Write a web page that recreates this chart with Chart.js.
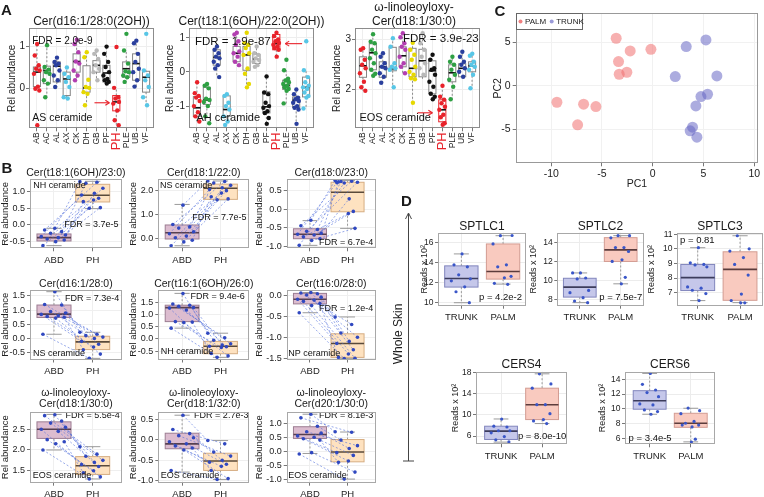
<!DOCTYPE html>
<html>
<head>
<meta charset="utf-8">
<title>Ceramide figure</title>
<script src="https://cdn.jsdelivr.net/npm/chart.js@4.4.1/dist/chart.umd.min.js"></script>
<style>
html,body{margin:0;padding:0;background:#fff;}
#fig{position:relative;width:764px;height:497px;overflow:hidden;background:#fff;font-family:"Liberation Sans",Arial,Helvetica,sans-serif;color:#1a1a1a;}
#fig canvas{position:absolute;}
.t{position:absolute;white-space:nowrap;line-height:1;transform:translate(-50%,-50%);}
#fig svg{position:absolute;left:0;top:0;}
</style>
</head>
<body>
<div id="fig"></div>
<script>
// ================= DATA =================
// ---- Panel A (12 skin sites) ----
const aCategories = ['AB','AC','AL','AX','CK','DH','GB','PF','PH','PLE','UB','VF'];
const a1Title = 'Cer(d16:1/28:0(2OH))';
const a1YTicks = [0, 1];
const a1Values = [
  [1.05, 0.78, 0.55, 0.47, 0.43, 0.35, 0.05, 0.0, -0.04, -0.86],
  [1.02, 0.51, 0.45, 0.39, 0.35, 0.2, 0.12, -0.2],
  [0.73, 0.63, 0.59, 0.55, 0.43, 0.31, 0.2, 0.04],
  [0.5, 0.35, 0.27, 0.16, 0.04, -0.2, -0.23],
  [1.15, 1.05, 0.86, 0.64, 0.59, 0.43, 0.31, 0.2],
  [0.86, 0.74, 0.21, 0.04, 0.02, -0.08, -0.12, -0.39],
  [0.9, 0.82, 0.7, 0.55, 0.47, 0.39, 0.2],
  [0.99, 0.82, 0.63, 0.51, 0.39, 0.31, 0.23, 0.2, 0.16, 0.12],
  [0.98, 0.02, -0.2, -0.23, -0.31, -0.35, -0.51, -0.74, -0.86],
  [1.29, 0.9, 0.59, 0.41, 0.39, 0.31, 0.27, 0.16],
  [1.13, 1.07, 0.82, 0.63, 0.47, 0.39, 0.2, 0.05],
  [1.29, 0.43, 0.31, 0.2, 0.04, -0.2, -0.39]
];
const a1Boxes = [
  [-0.04, 0.05, 0.39, 0.51, 1.05], [-0.2, 0.12, 0.43, 0.53, 1.02], [0.04, 0.16, 0.53, 0.63, 0.73],
  [-0.23, -0.16, 0.23, 0.39, 0.5], [0.2, 0.39, 0.64, 0.82, 1.15], [-0.39, -0.08, 0.02, 0.54, 0.86],
  [0.2, 0.39, 0.55, 0.66, 0.9], [0.12, 0.16, 0.37, 0.55, 0.99], [-0.86, -0.52, -0.31, -0.16, 0.02],
  [0.16, 0.27, 0.47, 0.63, 0.9], [0.05, 0.2, 0.59, 0.82, 1.13], [-0.39, -0.08, 0.27, 0.41, 0.43]
];
const a2Title = 'Cer(t18:1(6OH)/22:0(2OH))';
const a2YTicks = [-1, 0, 1];
const a2Values = [
  [-0.3, -0.62, -0.7, -0.75, -0.85, -1.0, -1.18, -1.3, -1.45],
  [-0.35, -0.4, -0.48, -0.78, -0.82, -0.88, -1.0, -1.3, -1.5],
  [0.75, 0.65, 0.55, 0.45, 0.4, 0.3, 0.2, 0.1, -0.15],
  [-0.65, -0.7, -0.9, -1.0, -1.1, -1.3, -1.45, -1.55],
  [1.15, 1.1, 0.9, 0.8, 0.6, 0.55, 0.45, 0.3, 0.2],
  [1.15, 0.85, 0.8, 0.7, 0.55, 0.5, 0.1, -0.05, -0.35, -0.45],
  [0.75, 0.55, 0.5, 0.4, 0.35, 0.3, 0.2, 0.15],
  [-0.13, -0.6, -0.65, -0.9, -1.0, -1.05, -1.15, -1.2, -1.35, -1.52],
  [1.15, 1.05, 0.95, 0.9, 0.85, 0.8, 0.75, 0.7, 0.65, 0.45],
  [0.36, 0.05, -0.2, -0.25, -0.3, -0.35, -0.4, -0.45, -0.5, -0.55, -0.92],
  [-0.51, -0.65, -0.75, -0.8, -0.85, -0.9, -1.0, -1.05, -1.1, -1.52],
  [0.9, 0.05, -0.15, -0.3, -0.4, -0.45, -0.5, -0.6, -0.7, -0.75, -1.07]
];
const a2Boxes = [
  [-1.45, -1.3, -1.05, -0.72, -0.3], [-1.3, -0.95, -0.82, -0.45, -0.35], [-0.15, 0.2, 0.43, 0.65, 0.75],
  [-1.55, -1.3, -1.1, -0.7, -0.65], [0.2, 0.3, 0.55, 0.75, 1.15], [-0.45, 0.05, 0.5, 0.75, 1.15],
  [0.15, 0.25, 0.38, 0.52, 0.75], [-1.52, -1.2, -1.02, -0.58, -0.13], [0.44, 0.65, 0.83, 1.1, 1.15],
  [-0.92, -0.51, -0.39, -0.24, 0.05], [-1.52, -1.04, -0.83, -0.73, -0.51], [-1.07, -0.73, -0.45, -0.15, 0.05]
];
const a3Title = ['ω-linoleoyloxy-', 'Cer(d18:1/30:0)'];
const a3YTicks = [2, 3];
const a3Values = [
  [2.82, 2.79, 2.59, 2.49, 2.42, 2.32, 2.15, 2.04, 1.97],
  [3.1, 2.95, 2.92, 2.79, 2.72, 2.62, 2.52, 2.39, 2.31, 2.27],
  [2.72, 2.65, 2.52, 2.45, 2.42, 2.32, 2.25, 2.13],
  [3.02, 2.85, 2.52, 2.45, 2.42, 2.39, 2.04],
  [3.12, 3.04, 2.92, 2.85, 2.79, 2.65, 2.52, 2.45, 2.32],
  [2.93, 2.79, 2.69, 2.59, 2.45, 2.35, 2.29, 2.22, 2.2, 1.73],
  [3.12, 2.92, 2.79, 2.65, 2.52, 2.42, 2.29],
  [2.69, 2.59, 2.42, 2.39, 2.29, 2.15, 2.05, 1.91, 1.85, 1.8],
  [2.07, 1.85, 1.79, 1.72, 1.65, 1.59, 1.49, 1.44, 1.32, 1.29],
  [2.65, 2.55, 2.49, 2.39, 2.29, 2.19, 2.05, 1.8],
  [2.75, 2.65, 2.55, 2.49, 2.42, 2.35, 2.25],
  [2.71, 2.67, 2.55, 2.49, 2.45, 2.39, 2.29, 2.02]
];
const a3Boxes = [
  [1.97, 2.24, 2.47, 2.65, 2.82], [2.27, 2.39, 2.73, 2.91, 3.1], [2.13, 2.24, 2.45, 2.55, 2.72],
  [2.04, 2.37, 2.41, 2.84, 3.02], [2.32, 2.45, 2.67, 2.85, 3.12], [1.73, 2.25, 2.42, 2.82, 2.93],
  [2.2, 2.25, 2.57, 2.8, 3.12], [1.8, 1.91, 2.37, 2.57, 2.69], [1.29, 1.35, 1.59, 1.79, 2.07],
  [1.8, 2.15, 2.33, 2.49, 2.65], [2.25, 2.25, 2.42, 2.51, 2.75], [2.02, 2.35, 2.47, 2.55, 2.71]
];

// ---- Panel B (ABD vs PH, paired) ----
const bGroups = ['ABD', 'PH'];
const b1Title = 'Cer(t18:1(6OH)/23:0)';
const b1YTicks = [-0.5, 0.0, 0.5, 1.0];
const b1Abd = [-0.1, -0.15, -0.2, -0.25, -0.3, -0.35, -0.38, -0.42, -0.45, -0.5, -0.62];
const b1Ph = [1.3, 1.28, 1.25, 1.1, 0.95, 0.9, 0.8, 0.75, 0.7, 0.52, 0.5];
const b1BoxAbd = [-0.62, -0.48, -0.38, -0.27, -0.1];
const b1BoxPh = [0.49, 0.69, 0.89, 1.22, 1.31];

const b2Title = 'Cer(d18:1/22:0)';
const b2YTicks = [0.0, 1.0, 2.0];
const b2Abd = [1.4, 0.6, 0.5, 0.45, 0.3, 0.22, 0.12, 0.05, -0.05, -0.12, -0.28];
const b2Ph = [2.4, 2.38, 2.32, 2.22, 2.12, 2.05, 2.0, 1.9, 1.75, 1.66, 1.62];
const b2BoxAbd = [-0.28, 0.0, 0.26, 0.58, 1.43];
const b2BoxPh = [1.62, 1.64, 2.1, 2.27, 2.4];

const b3Title = 'Cer(d18:0/23:0)';
const b3YTicks = [-1.0, -0.5, 0.0, 0.5];
const b3Abd = [-0.3, -0.45, -0.55, -0.6, -0.65, -0.68, -0.7, -0.75, -0.8, -0.85, -0.98];
const b3Ph = [0.78, 0.76, 0.75, 0.73, 0.28, 0.72, -0.06, -0.12, 0.74, -0.52, 0.71];
const b3BoxAbd = [-0.98, -0.8, -0.68, -0.53, -0.31];
const b3BoxPh = [-0.52, -0.07, 0.46, 0.73, 0.78];

const b4Title = 'Cer(d16:1/28:0)';
const b4YTicks = [-0.5, 0.0, 0.5, 1.0, 1.5];
const b4Abd = [1.65, 1.2, 1.18, 0.95, 0.9, 0.85, 0.8, 0.78, 0.75, 0.72, 0.15];
const b4Ph = [0.22, 0.15, 0.1, 0.05, 0.0, -0.1, -0.2, -0.3, -0.4, -0.55, -0.7];
const b4BoxAbd = [0.15, 0.74, 0.86, 1.18, 1.65];
const b4BoxPh = [-0.7, -0.39, -0.12, 0.08, 0.22];

const b5Title = 'Cer(t16:1(6OH)/26:0)';
const b5YTicks = [-0.5, 0.0, 0.5, 1.0, 1.5];
const b5Abd = [1.88, 1.45, 1.4, 1.35, 1.3, 1.28, 1.2, 0.72, 0.7, 0.68, 0.45];
const b5Ph = [0.24, 0.05, -0.05, -0.2, -0.25, -0.3, -0.32, -0.35, -0.6, -0.7, -0.76];
const b5BoxAbd = [0.45, 0.72, 1.3, 1.4, 1.89];
const b5BoxPh = [-0.76, -0.61, -0.3, -0.1, 0.24];

const b6Title = 'Cer(t16:0/28:0)';
const b6YTicks = [-1.5, -1.0, -0.5, 0.0];
const b6Abd = [0.06, 0.05, 0.03, 0.0, -0.05, -0.1, -0.12, -0.15, -0.2, -0.25, -0.42];
const b6Ph = [-0.52, -0.7, -0.9, -1.0, -1.1, -1.15, -1.3, -1.4, -1.48, -1.5, -1.51];
const b6BoxAbd = [-0.42, -0.21, -0.1, 0.04, 0.06];
const b6BoxPh = [-1.51, -1.48, -1.15, -0.92, -0.52];

const b7Title = ['ω-linoleoyloxy-', 'Cer(d18:1/30:0)'];
const b7YTicks = [1.5, 2.0, 2.5];
const b7Abd = [2.85, 2.83, 2.7, 2.65, 2.55, 2.5, 2.45, 2.25, 2.2, 2.15, 2.0];
const b7Ph = [2.08, 1.9, 1.85, 1.75, 1.7, 1.65, 1.6, 1.5, 1.45, 1.35, 1.3];
const b7BoxAbd = [2.0, 2.28, 2.5, 2.68, 2.86];
const b7BoxPh = [1.3, 1.41, 1.62, 1.84, 2.08];

const b8Title = ['ω-linoleoyloxy-', 'Cer(d18:1/32:0)'];
const b8YTicks = [-1.0, -0.5, 0.0, 0.5];
const b8Abd = [0.6, 0.25, 0.15, 0.1, 0.05, -0.05, -0.1, -0.15, -0.2, -0.25, -0.75];
const b8Ph = [-0.02, -0.1, -0.3, -0.4, -0.5, -0.55, -0.6, -0.65, -0.75, -0.95, -0.97];
const b8BoxAbd = [-0.79, -0.22, -0.1, 0.16, 0.6];
const b8BoxPh = [-0.97, -0.75, -0.52, -0.33, -0.02];

const b9Title = ['ω-linoleoyloxy-', 'Cer(d20:1/30:0)'];
const b9YTicks = [-1.0, -0.5, 0.0, 0.5, 1.0];
const b9Abd = [1.33, 1.2, 0.9, 0.7, 0.65, 0.55, 0.5, 0.45, 0.4, -0.05, -0.1];
const b9Ph = [0.7, 0.68, 0.4, 0.2, 0.1, -0.05, -0.15, -0.35, -0.4, -0.75, -1.0];
const b9BoxAbd = [-0.08, 0.46, 0.6, 0.88, 1.33];
const b9BoxPh = [-1.0, -0.38, -0.03, 0.42, 0.69];

// ---- Panel C (PCA) ----
const pcaPalmPC1 = [-3.6, -3.37, -2.22, -0.18, -3.3, -2.55, -9.44, -6.81, -5.6, -7.4];
const pcaPalmPC2 = [5.48, 2.8, 4.02, 4.21, 1.34, 1.57, -1.88, -2.1, -2.38, -4.48];
const pcaTrunkPC1 = [3.3, 5.24, 2.22, 6.32, 4.75, 5.4, 4.25, 3.92, 3.69, 4.35];
const pcaTrunkPC2 = [4.52, 5.29, 1.07, 1.15, -1.23, -0.96, -2.3, -4.75, -5.17, -5.9];
const pcaXTicks = [-10, -5, 0, 5, 10];
const pcaYTicks = [-5, 0, 5];

// ---- Panel D (whole skin RNA-seq) ----
const dGroups = ['TRUNK', 'PALM'];
const sptlc1Trunk = [14.9, 13.8, 13.6, 12.8, 12.4, 12.2, 11.6, 11.1, 10.0];
const sptlc1Palm = [16.73, 16.75, 15.9, 13.8, 13.6, 12.65, 12.5, 11.95, 11.85];
const sptlc1Boxes = [[10.0, 11.57, 12.43, 13.7, 14.9], [11.87, 12.37, 13.13, 15.9, 16.73]];
const sptlc1YTicks = [10, 12, 14, 16];
const sptlc2Trunk = [10.83, 10.83, 10.3, 10.2, 9.0, 8.76, 8.24, 7.89, 7.72];
const sptlc2Palm = [14.73, 14.73, 14.5, 13.48, 13.48, 13.07, 12.2, 12.03, 10.37, 9.69];
const sptlc2Boxes = [[7.72, 8.3, 9.34, 10.27, 10.83], [9.69, 12.03, 13.24, 14.52, 14.73]];
const sptlc2YTicks = [8, 10, 12, 14];
const sptlc3Trunk = [10.08, 9.04, 8.93, 8.9, 8.77, 7.39, 7.3, 7.16, 6.93, 6.45];
const sptlc3Palm = [10.9, 10.0, 9.85, 9.4, 8.93, 8.2, 6.9, 6.45, 6.3, 6.3];
const sptlc3Boxes = [[6.45, 7.14, 8.03, 8.93, 10.08], [6.31, 6.47, 8.59, 9.8, 10.9]];
const sptlc3YTicks = [7, 8, 9, 10, 11];
const cers4Trunk = [9.2, 7.85, 7.7, 7.0, 7.0, 6.6, 5.9, 5.3, 4.9];
const cers4Palm = [17.7, 15.8, 15.0, 11.9, 11.9, 10.2, 9.1, 8.85, 8.35];
const cers4Boxes = [[4.86, 5.36, 6.92, 7.85, 9.21], [8.35, 9.1, 11.9, 15.0, 17.7]];
const cers4YTicks = [6, 10, 14, 18];
const cers6Trunk = [14.8, 13.32, 12.55, 12.2, 11.65, 10.66, 10.53, 9.85, 9.63, 9.27];
const cers6Palm = [10.1, 9.75, 9.35, 8.3, 8.05, 7.8, 7.55, 7.8, 5.9, 5.5];
const cers6Boxes = [[9.27, 9.95, 11.1, 12.46, 14.8], [5.53, 7.5, 8.05, 9.4, 10.08]];
const cers6YTicks = [6, 8, 10, 12, 14];

// ================= RENDERING =================
const FONT = '"Liberation Sans", Arial, Helvetica, sans-serif';
Chart.defaults.font.family = FONT;
Chart.defaults.color = '#222';
const fig = document.getElementById('fig');

// deterministic horizontal spread pattern (not random)
const SPREAD = [0.02, -0.22, 0.18, -0.08, 0.27, -0.3, 0.1, -0.16, 0.24, 0.04, -0.26, 0.14];
const spread = (j, s) => SPREAD[j % SPREAD.length] * s;

function text(t, x, y, size, o = {}) {
  const d = document.createElement('div');
  d.className = 't';
  d.textContent = t;
  d.style.left = x + 'px';
  d.style.top = y + 'px';
  d.style.fontSize = size + 'px';
  if (o.bold) d.style.fontWeight = 'bold';
  if (o.color) d.style.color = o.color;
  if (o.rot) d.style.transform = 'translate(-50%,-50%) rotate(' + o.rot + 'deg)';
  fig.appendChild(d);
}

function seg(ctx, x0, y0, x1, y1) {
  ctx.beginPath(); ctx.moveTo(x0, y0); ctx.lineTo(x1, y1); ctx.stroke();
}

const framePlugin = color => ({
  id: 'frame',
  afterDraw(chart) {
    const {ctx, chartArea: a} = chart;
    ctx.save();
    ctx.strokeStyle = color; ctx.lineWidth = 1;
    const l = Math.round(a.left), t = Math.round(a.top), r = Math.round(a.right), b = Math.round(a.bottom);
    ctx.strokeRect(l + 0.5, t + 0.5, r - l - 1, b - t - 1);
    ctx.restore();
  }
});

function boxPlugin(boxes, width, styles) {
  return {
    id: 'boxes',
    beforeDatasetsDraw(chart) {
      const {ctx, scales: {x, y}} = chart;
      boxes.forEach((b, i) => {
        const st = styles[i];
        const cx = x.getPixelForValue(i);
        const hw = Math.abs(x.getPixelForValue(i + width / 2) - cx);
        const [lo, q1, md, q3, hi] = b.map(v => y.getPixelForValue(v));
        ctx.save();
        ctx.lineWidth = 1;
        ctx.strokeStyle = st.whisker;
        ctx.setLineDash([2, 2]);
        seg(ctx, cx, q3, cx, hi);
        seg(ctx, cx, q1, cx, lo);
        ctx.setLineDash([]);
        if (st.cap) {
          seg(ctx, cx - hw * st.cap, hi, cx + hw * st.cap, hi);
          seg(ctx, cx - hw * st.cap, lo, cx + hw * st.cap, lo);
        }
        if (st.fill) { ctx.fillStyle = st.fill; ctx.fillRect(cx - hw, q3, 2 * hw, q1 - q3); }
        ctx.strokeStyle = st.border; ctx.lineWidth = 1;
        ctx.strokeRect(cx - hw, q3, 2 * hw, q1 - q3);
        ctx.strokeStyle = st.median; ctx.lineWidth = st.medianWidth || 1.6;
        seg(ctx, cx - hw, md, cx + hw, md);
        ctx.restore();
      });
    }
  };
}

function notesPlugin(notes, arrows) {
  return {
    id: 'notes',
    afterDatasetsDraw(chart) {
      const {ctx, chartArea: a, scales: {x, y}} = chart;
      ctx.save();
      notes.forEach(n => {
        ctx.font = n.size + 'px ' + FONT;
        ctx.fillStyle = '#111';
        ctx.textAlign = n.align;
        ctx.textBaseline = 'middle';
        ctx.fillText(n.text, a.left + n.fx * (a.right - a.left), a.top + n.fy * (a.bottom - a.top));
      });
      (arrows || []).forEach(ar => {
        const x0 = x.getPixelForValue(ar.x0), x1 = x.getPixelForValue(ar.x1), yy = y.getPixelForValue(ar.y);
        ctx.strokeStyle = '#e8222a'; ctx.lineWidth = 1.1;
        seg(ctx, x0, yy, x1, yy);
        const d = x1 > x0 ? -1 : 1;
        seg(ctx, x1, yy, x1 + d * 4, yy - 2.5);
        seg(ctx, x1, yy, x1 + d * 4, yy + 2.5);
      });
      ctx.restore();
    }
  };
}

function makeChart(s) {
  const [pl, pt, pr, pb] = s.plot;
  const cl = Math.floor(s.left), ct = Math.floor(pt - (s.mt || 8));
  const W = Math.ceil(pr + (s.mr || 8) - cl), H = Math.ceil(s.bottom - ct);
  const ml = pl - cl, mt = pt - ct, mr = W - (pr - cl), mb = H - (pb - ct);
  const cv = document.createElement('canvas');
  cv.width = W; cv.height = H;
  cv.style.left = cl + 'px'; cv.style.top = ct + 'px';
  cv.style.width = W + 'px'; cv.style.height = H + 'px';
  fig.appendChild(cv);
  const yts = s.yTitleSize || 10;
  const yPad = Math.max(0, s.yTitleX - cl - yts * 0.6);
  let xTitle = {display: false};
  if (s.xTitle) {
    const xs = s.xTitleSize || 10;
    xTitle = {display: true, text: s.xTitle, color: '#222', font: {size: xs},
      padding: {top: 0, bottom: Math.max(0, H - (s.xTitleY - ct) - xs * 0.6)}};
  }
  const grid = s.grid || '#ebebeb';
  return new Chart(cv, {
    type: 'scatter',
    data: {datasets: s.datasets},
    options: {
      responsive: false, animation: false, devicePixelRatio: 1, events: [],
      layout: {padding: {left: 0, top: mt, right: mr, bottom: 0}},
      plugins: {legend: {display: false}, tooltip: {enabled: false}, title: {display: false}},
      scales: {
        x: {
          type: 'linear', position: 'bottom', min: s.xMin, max: s.xMax,
          afterBuildTicks: sc => { sc.ticks = s.xTicks.map(v => ({value: v})); },
          afterFit: sc => { sc.height = mb; },
          border: {display: false},
          grid: {color: grid, lineWidth: 1, drawTicks: true, tickLength: 3, tickColor: '#777'},
          ticks: {autoSkip: false, minRotation: s.xRot || 0, maxRotation: s.xRot || 0,
            padding: s.xPad ?? 2, font: s.xFont || {size: 10}, color: s.xColor || '#222', callback: s.xLabel},
          title: xTitle
        },
        y: {
          type: 'linear', position: 'left', min: s.yMin, max: s.yMax,
          afterBuildTicks: sc => { sc.ticks = s.yTicks.map(v => ({value: v})); },
          afterFit: sc => { sc.width = ml; },
          border: {display: false},
          grid: {color: grid, lineWidth: 1, drawTicks: true, tickLength: 3, tickColor: '#777'},
          ticks: {autoSkip: false, padding: s.yPad ?? 2, font: {size: s.yTickSize || 10}, color: '#222',
            callback: s.yLabel || (v => String(v))},
          title: {display: true, text: s.yTitle, color: '#222', font: {size: yts}, padding: {top: yPad, bottom: 0}}
        }
      }
    },
    plugins: s.plugins
  });
}

// ---------- Panel A ----------
const aColors = ['#e8222a', '#2ea043', '#2a3f9d', '#58c6e6', '#b23fb0', '#e6d800',
                 '#b8b8b8', '#111111', '#e8222a', '#2ea043', '#2a3f9d', '#58c6e6'];
function panelA(plot, yMin, yMax, yTicks, values, boxes, yTitleX, notes, arrows) {
  const datasets = values.map((vals, i) => ({
    data: vals.map((v, j) => ({x: i + spread(j, 1.0), y: v})),
    backgroundColor: aColors[i], borderWidth: 0, pointRadius: 2.2
  }));
  const styles = boxes.map((b, i) => ({
    whisker: '#8a8a8a', border: i === 8 ? '#e8222a' : '#858585', median: '#111', medianWidth: 1.6
  }));
  makeChart({
    plot, left: 0 + Math.max(0, Math.floor(yTitleX - 7)), bottom: 160, mt: 8, mr: 6,
    xMin: -0.8, xMax: 11.8, xTicks: aCategories.map((c, i) => i), xLabel: v => aCategories[v],
    xRot: 90, xPad: 1,
    xFont: ctx => ({size: ctx.index === 8 ? 13 : 8.5}),
    xColor: ctx => ctx.index === 8 ? '#e8222a' : '#222',
    yMin, yMax, yTicks, yTitle: 'Rel abundance', yTitleX, yTitleSize: 10, yPad: 1,
    grid: '#eeeeee', datasets,
    plugins: [boxPlugin(boxes, 0.72, styles), notesPlugin(notes, arrows), framePlugin('#8c8c8c')]
  });
}
panelA([29, 28.3, 154, 128.3], -0.93, 1.42, a1YTicks, a1Values, a1Boxes, 12,
  [{text: 'FDR = 2.0e-9', fx: 0.026, fy: 0.134, align: 'left', size: 10},
   {text: 'AS ceramide', fx: 0.026, fy: 0.9, align: 'left', size: 10.5}],
  [{x0: 5.8, x1: 7.3, y: -0.33}]);
panelA([189, 28.3, 314, 128.3], -1.65, 1.28, a2YTicks, a2Values, a2Boxes, 170,
  [{text: 'FDR = 1.9e-87', fx: 0.048, fy: 0.134, align: 'left', size: 11.5},
   {text: 'AH ceramide', fx: 0.06, fy: 0.9, align: 'left', size: 11}],
  [{x0: 10.6, x1: 8.9, y: 0.83}]);
panelA([355, 28.3, 480, 128.3], 1.22, 3.22, a3YTicks, a3Values, a3Boxes, 337,
  [{text: 'FDR = 3.9e-23', fx: 0.99, fy: 0.11, align: 'right', size: 11.5},
   {text: 'EOS ceramide', fx: 0.035, fy: 0.9, align: 'left', size: 11}],
  [{x0: 5.5, x1: 7.0, y: 1.53}]);
text(a1Title, 91.5, 20.7, 12);
text(a2Title, 251.5, 20.7, 12);
text(a3Title[0], 414, 7, 12);
text(a3Title[1], 414, 20.7, 12);

// ---------- Panel B ----------
const bStyles = [
  {fill: '#dcbccf', border: '#9c7d92', median: '#574050', whisker: '#9a9a9a', cap: 0.45},
  {fill: '#fee2c0', border: '#d6ad82', median: '#5a4a3a', whisker: '#9a9a9a', cap: 0.45}
];
function panelB(plot, yMin, yMax, yTicks, abd, ph, boxAbd, boxPh, yTitleX, bottom, notes) {
  const xa = abd.map((v, j) => spread(j, 1.1));
  const xp = ph.map((v, j) => 1 + spread(j + 5, 1.1));
  const lines = abd.map((v, j) => ({
    data: [{x: xa[j], y: v}, {x: xp[j], y: ph[j]}],
    showLine: true, borderColor: 'rgba(80,110,220,0.75)', borderWidth: 0.8, borderDash: [2, 2],
    pointRadius: 0, order: 3
  }));
  const pts = {
    data: abd.map((v, j) => ({x: xa[j], y: v})).concat(ph.map((v, j) => ({x: xp[j], y: v}))),
    backgroundColor: '#3048c0', borderWidth: 0, pointRadius: 1.8, order: 1
  };
  makeChart({
    plot, left: Math.max(0, Math.floor(yTitleX - 7)), bottom, mt: 8, mr: 6,
    xMin: -0.62, xMax: 1.75, xTicks: [0, 1], xLabel: v => bGroups[v], xPad: 3, xFont: {size: 9.5},
    yMin, yMax, yTicks, yLabel: v => v.toFixed(1), yTickSize: 9, yPad: 2,
    yTitle: 'Rel abundance', yTitleX, yTitleSize: 9.5, grid: '#efefef',
    datasets: lines.concat([pts]),
    plugins: [boxPlugin([boxAbd, boxPh], 0.88, bStyles), notesPlugin(notes), framePlugin('#a8a8a8')]
  });
}
const bNote = (t, fx, fy, align) => ({text: t, fx, fy, align, size: 9});
panelB([30, 179.3, 121.7, 248.3], -0.70, 1.37, b1YTicks, b1Abd, b1Ph, b1BoxAbd, b1BoxPh, 5.5, 268,
  [bNote('NH ceramide', 0.036, 0.083, 'left'), bNote('FDR = 3.7e-5', 0.965, 0.66, 'right')]);
panelB([158.3, 179.3, 249.3, 248.3], -0.385, 2.47, b2YTicks, b2Abd, b2Ph, b2BoxAbd, b2BoxPh, 133.5, 268,
  [bNote('NS ceramide', 0.02, 0.083, 'left'), bNote('FDR = 7.7e-5', 0.97, 0.556, 'right')]);
panelB([286.7, 179.3, 375.7, 248.3], -1.06, 0.81, b3YTicks, b3Abd, b3Ph, b3BoxAbd, b3BoxPh, 259.5, 268,
  [bNote('FDR = 6.7e-4', 0.973, 0.92, 'right')]);
panelB([30, 290, 121.7, 359.5], -0.74, 1.71, b4YTicks, b4Abd, b4Ph, b4BoxAbd, b4BoxPh, 5.5, 379,
  [bNote('FDR = 7.3e-4', 0.974, 0.12, 'right'), bNote('NS ceramide', 0.033, 0.92, 'left')]);
panelB([158.3, 290, 249.3, 359.5], -0.85, 2.03, b5YTicks, b5Abd, b5Ph, b5BoxAbd, b5BoxPh, 133.5, 379,
  [bNote('FDR = 9.4e-6', 0.95, 0.1, 'right'), bNote('NH ceramide', 0.026, 0.88, 'left')]);
panelB([286.7, 290, 375.7, 359.5], -1.53, 0.12, b6YTicks, b6Abd, b6Ph, b6BoxAbd, b6BoxPh, 259.5, 379,
  [bNote('FDR = 1.2e-4', 0.973, 0.26, 'right'), bNote('NP ceramide', 0.018, 0.92, 'left')]);
panelB([30, 411.7, 121.7, 482.7], 1.21, 2.925, b7YTicks, b7Abd, b7Ph, b7BoxAbd, b7BoxPh, 5.5, 497,
  [bNote('FDR = 5.5e-4', 0.98, 0.06, 'right'), bNote('EOS ceramide', 0.03, 0.9, 'left')]);
panelB([158.3, 411.7, 249.3, 482.7], -1.05, 0.686, b8YTicks, b8Abd, b8Ph, b8BoxAbd, b8BoxPh, 133.5, 497,
  [bNote('FDR = 2.7e-3', 0.99, 0.06, 'right'), bNote('EOS ceramide', 0.026, 0.9, 'left')]);
panelB([286.7, 411.7, 375.7, 482.7], -1.13, 1.42, b9YTicks, b9Abd, b9Ph, b9BoxAbd, b9BoxPh, 259.5, 497,
  [bNote('FDR = 8.1e-3', 0.973, 0.06, 'right'), bNote('EOS ceramide', 0.018, 0.9, 'left')]);
text(b1Title, 75.9, 172, 10.5);
text(b2Title, 203.8, 172, 10.5);
text(b3Title, 331.2, 172, 10.5);
text(b4Title, 75.9, 283, 10.5);
text(b5Title, 203.8, 283, 10.5);
text(b6Title, 331.2, 283, 10.5);
text(b7Title[0], 75.9, 391.5, 10.5); text(b7Title[1], 75.9, 403, 10.5);
text(b8Title[0], 203.8, 391.5, 10.5); text(b8Title[1], 203.8, 403, 10.5);
text(b9Title[0], 331.2, 391.5, 10.5); text(b9Title[1], 331.2, 403, 10.5);

// ---------- Panel C ----------
const pcaLegend = {
  id: 'pcaLegend',
  afterDraw(chart) {
    const {ctx, chartArea: a} = chart;
    const x0 = Math.round(a.left), y0 = Math.round(a.top);
    ctx.save();
    ctx.fillStyle = '#fff'; ctx.fillRect(x0, y0, 66, 16);
    ctx.strokeStyle = '#666'; ctx.lineWidth = 1; ctx.strokeRect(x0 + 0.5, y0 + 0.5, 66, 16);
    ctx.font = '8px ' + FONT; ctx.textBaseline = 'middle'; ctx.textAlign = 'left';
    let x = x0 + 3;
    chart.data.datasets.forEach(ds => {
      ctx.fillStyle = ds.legendColor;
      ctx.beginPath(); ctx.arc(x + 1.5, y0 + 8.5, 2, 0, Math.PI * 2); ctx.fill();
      ctx.fillStyle = '#222'; ctx.fillText(ds.label, x + 6, y0 + 8.8);
      x += 6 + ctx.measureText(ds.label).width + 4;
    });
    ctx.restore();
  }
};
makeChart({
  plot: [515.7, 13.3, 758.3, 163.3], left: 491, bottom: 192, mt: 8, mr: 5,
  xMin: -13.5, xMax: 10.4, xTicks: pcaXTicks, xLabel: v => String(v), xPad: 2, xFont: {size: 10.5},
  xTitle: 'PC1', xTitleY: 184, xTitleSize: 10.5,
  yMin: -8.9, yMax: 8.35, yTicks: pcaYTicks, yTitle: 'PC2', yTitleX: 498, yTitleSize: 10.5, yTickSize: 10.5, yPad: 2,
  grid: '#f1f1f1',
  datasets: [
    {label: 'PALM', legendColor: '#f08080', data: pcaPalmPC1.map((v, i) => ({x: v, y: pcaPalmPC2[i]})),
     backgroundColor: 'rgba(240,112,112,0.55)', borderWidth: 0, pointRadius: 5.5},
    {label: 'TRUNK', legendColor: '#9a9ad8', data: pcaTrunkPC1.map((v, i) => ({x: v, y: pcaTrunkPC2[i]})),
     backgroundColor: 'rgba(104,104,196,0.55)', borderWidth: 0, pointRadius: 5.5}
  ],
  plugins: [framePlugin('#999'), pcaLegend]
});

// ---------- Panel D ----------
const dStyles = [
  {fill: '#c5c7ea', border: '#8286bd', median: '#3c3c5c', whisker: '#9a9a9a', cap: 0.45},
  {fill: '#f9cabf', border: '#d39c92', median: '#5c3c3c', whisker: '#9a9a9a', cap: 0.45}
];
function panelD(plot, xMin, xMax, yMin, yMax, yTicks, trunk, palm, boxes, yTitleX, bottom, note) {
  const pts = {
    data: trunk.map((v, j) => ({x: spread(j, 0.8), y: v})).concat(palm.map((v, j) => ({x: 1 + spread(j + 3, 0.8), y: v}))),
    backgroundColor: '#3a56c8', borderWidth: 0, pointRadius: 1.6
  };
  makeChart({
    plot, left: Math.floor(yTitleX - 7), bottom, mt: 8, mr: 5,
    xMin, xMax, xTicks: [0, 1], xLabel: v => dGroups[v], xPad: 3, xFont: {size: 9.5},
    yMin, yMax, yTicks, yTickSize: 8.5, yPad: 1.5,
    yTitle: 'Reads x 10²', yTitleX, yTitleSize: 9, grid: '#ececec',
    datasets: [pts],
    plugins: [boxPlugin(boxes, 0.8, dStyles), notesPlugin([note]), framePlugin('#a8a8a8')]
  });
}
const dNote = (t, fx, fy, align) => ({text: t, fx, fy, align, size: 9.5});
panelD([438, 232.7, 526, 305.7], -0.56, 1.55, 9.7, 17.03, sptlc1YTicks, sptlc1Trunk, sptlc1Palm, sptlc1Boxes, 424.5, 325,
  dNote('p = 4.2e-2', 0.955, 0.88, 'right'));
panelD([557.3, 232.7, 644, 305.7], -0.55, 1.57, 7.4, 15.04, sptlc2YTicks, sptlc2Trunk, sptlc2Palm, sptlc2Boxes, 534, 325,
  dNote('p = 7.5e-7', 0.98, 0.88, 'right'));
panelD([677, 232.7, 763.3, 305.7], -0.49, 1.55, 6.1, 11.11, sptlc3YTicks, sptlc3Trunk, sptlc3Palm, sptlc3Boxes, 651.5, 325,
  dNote('p = 0.81', 0.035, 0.11, 'left'));
panelD([476, 371.7, 566.7, 444.3], -0.61, 1.6, 4.45, 18.1, cers4YTicks, cers4Trunk, cers4Palm, cers4Boxes, 455.5, 463,
  dNote('p = 8.0e-10', 0.995, 0.89, 'right'));
panelD([625, 371.7, 715, 444.3], -0.6, 1.59, 5.2, 15.03, cers6YTicks, cers6Trunk, cers6Palm, cers6Boxes, 602.5, 463,
  dNote('p = 3.4e-5', 0.04, 0.92, 'left'));
text('SPTLC1', 482, 225.5, 12);
text('SPTLC2', 600.5, 226, 12);
text('SPTLC3', 720, 226, 12);
text('CERS4', 521.5, 364, 12);
text('CERS6', 670, 364, 12);

// Whole-skin bracket
const svgNS = 'http://www.w3.org/2000/svg';
const svg = document.createElementNS(svgNS, 'svg');
svg.setAttribute('width', '764'); svg.setAttribute('height', '497');
svg.innerHTML = '<line x1="408.5" y1="214" x2="408.5" y2="461" stroke="#444" stroke-width="1"/>' +
  '<polyline points="405.5,219 408.5,213 411.5,219" fill="none" stroke="#444" stroke-width="1"/>' +
  '<line x1="403" y1="461" x2="414" y2="461" stroke="#444" stroke-width="1"/>';
fig.appendChild(svg);
text('Whole Skin', 397.5, 334, 12, {rot: -90});

// Panel letters
text('A', 6.5, 8.5, 15, {bold: true});
text('B', 7, 167, 15, {bold: true});
text('C', 500, 10, 15, {bold: true});
text('D', 406.5, 200, 15, {bold: true});
</script>
</body>
</html>
